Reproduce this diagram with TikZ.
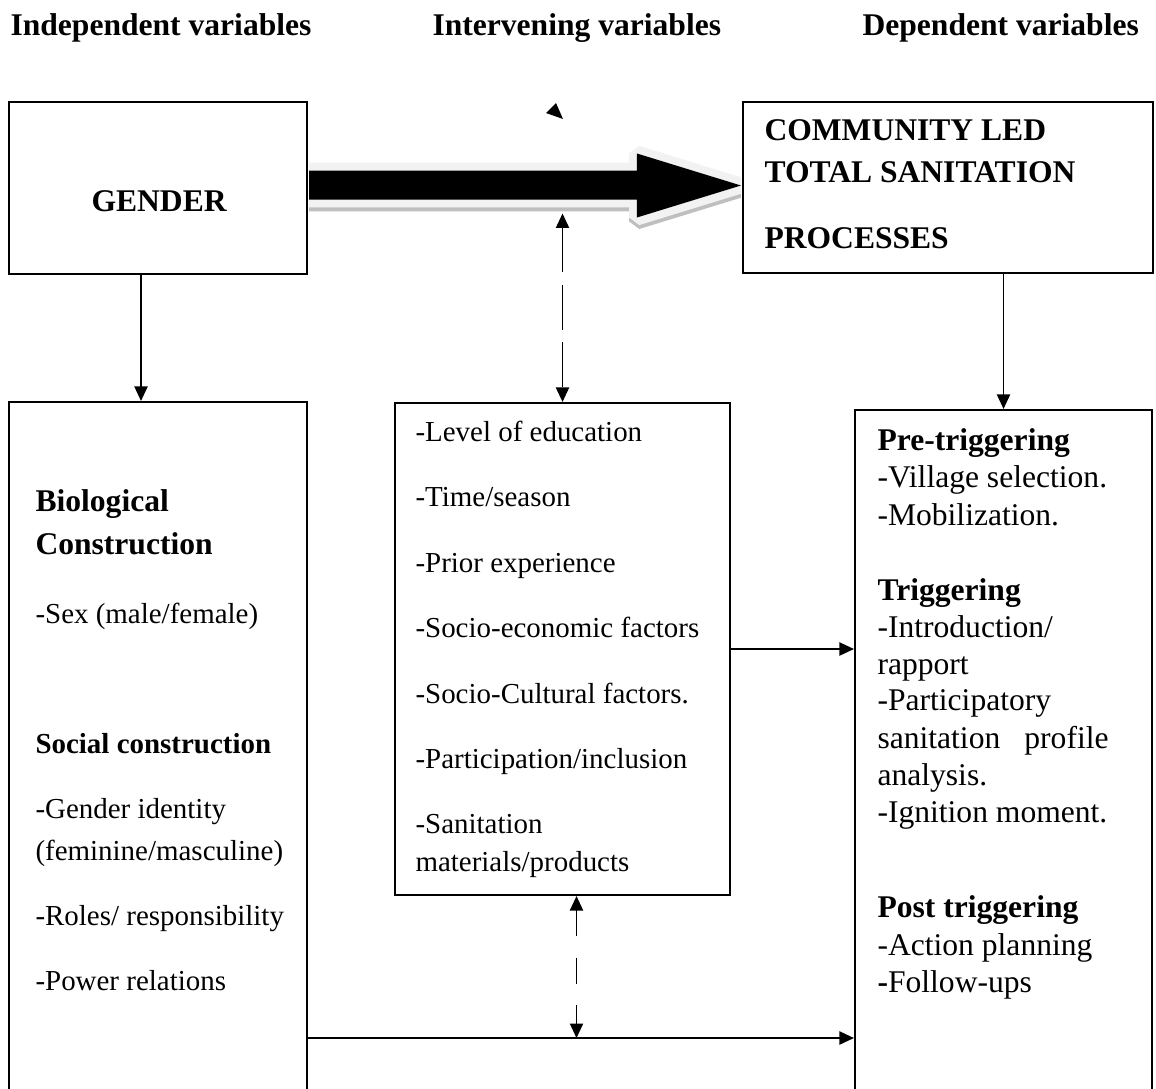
\documentclass[tikz,border=0pt]{standalone}
\usepackage{fontspec}
\setmainfont{Liberation Serif}
\usetikzlibrary{arrows.meta,positioning,fit,calc}

\begin{document}
\begin{tikzpicture}[
    x=0.38pt, y=-0.38pt,
    box/.style={draw, line width=0.8pt, inner sep=0pt},
    bbig/.style={font=\fontsize{12}{14}\selectfont\bfseries, anchor=base west, inner sep=0pt},
    bsml/.style={font=\fontsize{11}{13}\selectfont\bfseries, anchor=base west, inner sep=0pt},
    txt/.style={font=\fontsize{12}{14}\selectfont, anchor=base west, inner sep=0pt},
    sml/.style={font=\fontsize{11}{13}\selectfont, anchor=base west, inner sep=0pt},
    arr/.style={-{Triangle[length=5.5pt,width=5pt]}, line width=0.6pt},
    dasharr/.style={{Triangle[length=5.5pt,width=5pt]}-{Triangle[length=5.5pt,width=5pt]}, line width=0.6pt}
]
\useasboundingbox (0,0) rectangle (1156,1088);
\clip (0,0) rectangle (1156,1088);
\fill[white] (0,0) rectangle (1156,1088);

% Column headings
\node[bbig] (hdind) at (10,36) {Independent variables};
\node[bbig] (hdint) at (432,36) {Intervening variables};
\node[bbig] (hddep) at (862,36) {Dependent variables};

% Boxes (the lower ones run past the bottom edge)
\node[box, fit={(9,102) (307,274)}] (gender) {};
\node[box, fit={(743,102) (1153,273)}] (clts) {};
\node[box, fit={(9,402) (307,1130)}] (indep) {};
\node[box, fit={(395,403) (730,895)}] (interv) {};
\node[box, fit={(855,410) (1152,1130)}] (dep) {};

\node[bbig] (gendertxt) at (91,211) {GENDER};
\foreach \y/\name [count=\i] in {140/COMMUNITY LED, 182/TOTAL SANITATION, 248/PROCESSES}
    \node[bbig] (clts\i) at (764,\y) {\name};

% Big block arrow with light rim and shadow
\coordinate (tip) at ($(clts.west)+(-1,-2)$);
\coordinate (tail) at (gender.east |- tip);
\begin{scope}
\clip ([xshift=0.4pt]gender.north east) rectangle ([xshift=-0.4pt]clts.south west);
\filldraw[gray!50, line width=6pt, line join=bevel, transform canvas={yshift=-1.5pt}]
    ($(tail)+(0,-15)$) -- ($(tip)+(-104,-15)$) -- ($(tip)+(-104,-32)$) -- (tip)
    -- ($(tip)+(-104,32)$) -- ($(tip)+(-104,14)$) -- ($(tail)+(0,14)$) -- cycle;
\filldraw[fill=gray!10, draw=gray!10, line width=6pt, line join=bevel]
    ($(tail)+(0,-15)$) -- ($(tip)+(-104,-15)$) -- ($(tip)+(-104,-32)$) -- (tip)
    -- ($(tip)+(-104,32)$) -- ($(tip)+(-104,14)$) -- ($(tail)+(0,14)$) -- cycle;
\fill[black]
    ($(tail)+(0,-15)$) -- ($(tip)+(-104,-15)$) -- ($(tip)+(-104,-32)$) -- (tip)
    -- ($(tip)+(-104,32)$) -- ($(tip)+(-104,14)$) -- ($(tail)+(0,14)$) -- cycle;
\end{scope}
\fill (546,113) -- (556,103) -- (563,119) -- cycle;

% Left box
\foreach \y/\s/\t [count=\i] in {
    511/bbig/Biological,
    554/bbig/Construction,
    623/sml/{-Sex (male/female)},
    753/bsml/Social construction,
    818/sml/-Gender identity,
    860/sml/{(feminine/masculine)},
    925/sml/{-Roles/ responsibility},
    990/sml/-Power relations
} {
    \node[\s] (ind\i) at (35,\y) {\t};
}

% Middle box
\foreach \y/\t [count=\i] in {
    441/-Level of education,
    506/{-Time/season},
    572/-Prior experience,
    637/-Socio-economic factors,
    703/-Socio-Cultural factors.,
    768/{-Participation/inclusion},
    833/-Sanitation,
    871/{materials/products}
} {
    \node[sml] (mid\i) at (415,\y) {\t};
}

% Right box
\foreach \y/\s/\t [count=\i] in {
    450/bbig/Pre-triggering,
    487/txt/-Village selection.,
    525/txt/-Mobilization.,
    600/bbig/Triggering,
    637/txt/{-Introduction/},
    674/txt/rapport,
    710/txt/-Participatory,
    748/txt/{\makebox[87.8pt][s]{sanitation profile}},
    785/txt/analysis.,
    822/txt/-Ignition moment.,
    917/bbig/Post triggering,
    955/txt/-Action planning,
    992/txt/{\textbf{-}Follow-ups}
} {
    \node[\s] (dep\i) at (877,\y) {\t};
}

% Connectors
\coordinate (lowrow) at (0,1038);
\coordinate (upend) at ($(interv.north |- tip)+(0,28)$);
\draw[arr] ($(gender.south)+(-17,0)$) -- ($(indep.north)+(-17,0)$);
\draw[arr] (clts.south -| dep.north) -- (dep.north);
\draw[dasharr, dash pattern=on 17pt off 4.8pt] (upend) -- (interv.north);
\draw[dasharr, dash pattern=on 10pt off 8pt] ($(interv.south)+(14,0)$) -- ($(interv.south |- lowrow)+(14,0)$);
\draw[arr] (interv.east) -- (interv.east -| dep.west);
\draw[arr] (indep.east |- lowrow) -- (dep.west |- lowrow);
\end{tikzpicture}
\end{document}
